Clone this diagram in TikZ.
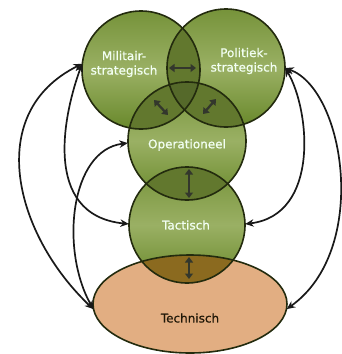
\documentclass[tikz,border=0pt]{standalone}
\usepackage{fontspec}
\setmainfont{DejaVu Sans}
\newfontfamily\lblf[FakeBold=0.7]{DejaVu Sans}
\usetikzlibrary{arrows.meta,shapes.geometric}
\definecolor{gtop}{HTML}{76933A}
\definecolor{gmid}{HTML}{9AB064}
\definecolor{gbot}{HTML}{68882A}
\definecolor{govl}{HTML}{62782E}
\definecolor{gtri}{HTML}{55692A}
\definecolor{tech}{HTML}{E2AE82}
\definecolor{brown}{HTML}{8B6A1F}
\definecolor{edge}{HTML}{232B0E}
\definecolor{arr}{HTML}{33372C}
\begin{document}
\begin{tikzpicture}[x=1pt,y=-1pt,
  gfill/.style={top color=gtop,bottom color=gbot,middle color=gmid},
  outline/.style={draw=edge,line width=1.6pt},
  anchorc/.style={circle,minimum size=118pt,inner sep=0pt},
  dbl/.style={draw=arr,line width=2.3pt,{Triangle[length=5.5pt,width=8pt]}-{Triangle[length=5.5pt,width=8pt]}},
  conn/.style={draw=black!90,line width=1.7pt,{Stealth[length=8.5pt,width=7.5pt]}-{Stealth[length=8.5pt,width=7.5pt]}},
  lbl/.style={text=white!95!green,font=\lblf\fontsize{12}{14.5}\selectfont,align=center},
]
\useasboundingbox (0,0) rectangle (342,354);
% invisible anchor nodes
\node[anchorc] (mil) at (141,70) {};
\node[anchorc] (pol) at (226,68) {};
\node[anchorc] (op) at (187,141) {};
\node[circle,minimum size=116pt,inner sep=0pt] (tac) at (187,225) {};
\node[ellipse,minimum width=194pt,minimum height=98pt,inner sep=0pt] (tech) at (190,304) {};
% fills
\fill[tech] (190,304) ellipse[x radius=97pt,y radius=49pt];
\shade[gfill] (187,225) circle[radius=58pt];
\shade[gfill] (187,141) circle[radius=59pt];
\shade[gfill] (141,70) circle[radius=59pt];
\shade[gfill] (226,68) circle[radius=59pt];
% overlaps
\begin{scope}\clip (141,70) circle[radius=59pt]; \fill[govl] (226,68) circle[radius=59pt]; \fill[govl] (187,141) circle[radius=59pt];\end{scope}
\begin{scope}\clip (226,68) circle[radius=59pt]; \fill[govl] (187,141) circle[radius=59pt];\end{scope}
\begin{scope}\clip (141,70) circle[radius=59pt]; \clip (226,68) circle[radius=59pt]; \fill[gtri] (187,141) circle[radius=59pt];\end{scope}
\begin{scope}\clip (187,141) circle[radius=59pt]; \fill[govl] (187,225) circle[radius=58pt];\end{scope}
\begin{scope}\clip (187,225) circle[radius=58pt]; \fill[brown] (190,304) ellipse[x radius=97pt,y radius=49pt];\end{scope}
% outlines
\draw[outline] (190,304) ellipse[x radius=97pt,y radius=49pt];
\draw[outline] (187,225) circle[radius=58pt];
\draw[outline] (187,141) circle[radius=59pt];
\draw[outline] (141,70) circle[radius=59pt];
\draw[outline] (226,68) circle[radius=59pt];
% double arrows in overlaps
\coordinate (h1) at (169,68); \coordinate (h2) at (196,68);
\coordinate (l1) at (154,100); \coordinate (l2) at (168,115);
\coordinate (r1) at (203,114); \coordinate (r2) at (216,99);
\coordinate (v1) at (189,169); \coordinate (v2) at (189,198);
\coordinate (w1) at (189,257); \coordinate (w2) at (189,279);
\draw[dbl] (h1) -- (h2);
\draw[dbl] (l1) -- (l2);
\draw[dbl] (r1) -- (r2);
\draw[dbl] (v1) -- (v2);
\draw[dbl] (w1) -- (w2);
% labels
\node[lbl] (tmil) at (124,64) {Militair-\\strategisch};
\node[lbl] (tpol) at (244,61) {Politiek-\\strategisch};
\node[lbl] (top) at (187,145) {Operationeel};
\node[lbl] (ttac) at (186,225) {Tactisch};
\node[lbl,text=black!78!brown] (ttech) at (190,318) {Technisch};
% connectors
\draw[conn] (mil.174) .. controls (-17,113) and (15,235) .. (tech.183);
\draw[conn] (mil.174) .. controls (65,110) and (40,215) .. (tac.179);
\draw[conn] (op.182) .. controls (70,150) and (60,250) .. (tech.183);
\draw[conn] (pol.0) .. controls (345,90) and (370,250) .. (tech.357);
\draw[conn] (pol.0) .. controls (310,110) and (320,215) .. (tac.1);
\end{tikzpicture}
\end{document}
